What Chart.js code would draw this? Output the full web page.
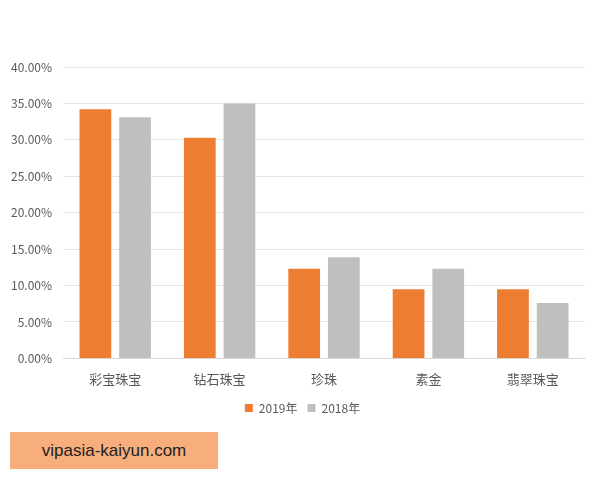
<!DOCTYPE html>
<html>
<head>
<meta charset="utf-8">
<script src="https://cdn.jsdelivr.net/npm/chart.js@4"></script>
<style>
  html, body { margin: 0; padding: 0; background: #ffffff; }
  #wrap { position: absolute; left: 0; top: 0; width: 600px; height: 428px; }
  #mark {
    position: absolute; left: 10px; top: 432px; width: 208px; height: 37px;
    background: #f8ae7c; color: #222; font: 17px 'Liberation Sans', Arial, sans-serif;
    line-height: 37px; text-align: center;
  }
</style>
</head>
<body>
<div id="wrap"><canvas id="jewelChart"></canvas></div>
<div id="mark">vipasia-kaiyun.com</div>
<script>
const categories = ['彩宝珠宝', '钻石珠宝', '珍珠', '素金', '翡翠珠宝'];
const share2019 = [34.2, 30.3, 12.3, 9.5, 9.5];
const share2018 = [33.1, 35.0, 13.9, 12.3, 7.6];
const yMax = 40;
const yStep = 5;

const textColor = '#595959';
const font = "'Noto Sans CJK SC', 'Noto Sans', sans-serif";

// legend sits centred on the page, not on the padded box
const legendShift = {
    id: 'legendShift',
    afterLayout(chart) {
        chart.legend.left += 10;
        chart.legend.right += 10;
    }
};

new Chart(document.getElementById('jewelChart'), {
    type: 'bar',
    data: {
        labels: categories,
        datasets: [
            { label: '2019年', data: share2019, backgroundColor: '#ed7d31', categoryPercentage: 0.76, barPercentage: 0.8 },
            { label: '2018年', data: share2018, backgroundColor: '#bfbfbf', categoryPercentage: 0.76, barPercentage: 0.8 }
        ]
    },
    options: {
        responsive: true,
        maintainAspectRatio: false,
        animation: false,
        layout: { padding: { top: 67, left: 0, right: 15, bottom: 4 } },
        plugins: {
            legend: {
                position: 'bottom',
                labels: {
                    color: textColor,
                    font: { family: font, size: 12 },
                    boxWidth: 8,
                    boxHeight: 8,
                    padding: 10
                }
            },
            tooltip: { enabled: false }
        },
        scales: {
            x: {
                grid: { display: false },
                border: { color: '#d9d9d9' },
                ticks: { color: textColor, font: { family: font, size: 13 }, padding: 5 }
            },
            y: {
                min: 0,
                max: yMax,
                ticks: {
                    stepSize: yStep,
                    color: textColor,
                    font: { family: font, size: 12 },
                    padding: 11,
                    callback: v => v.toFixed(2) + '%'
                },
                grid: { color: '#e6e6e6', drawTicks: false },
                border: { display: false }
            }
        }
    },
    plugins: [legendShift]
});
</script>
</body>
</html>
